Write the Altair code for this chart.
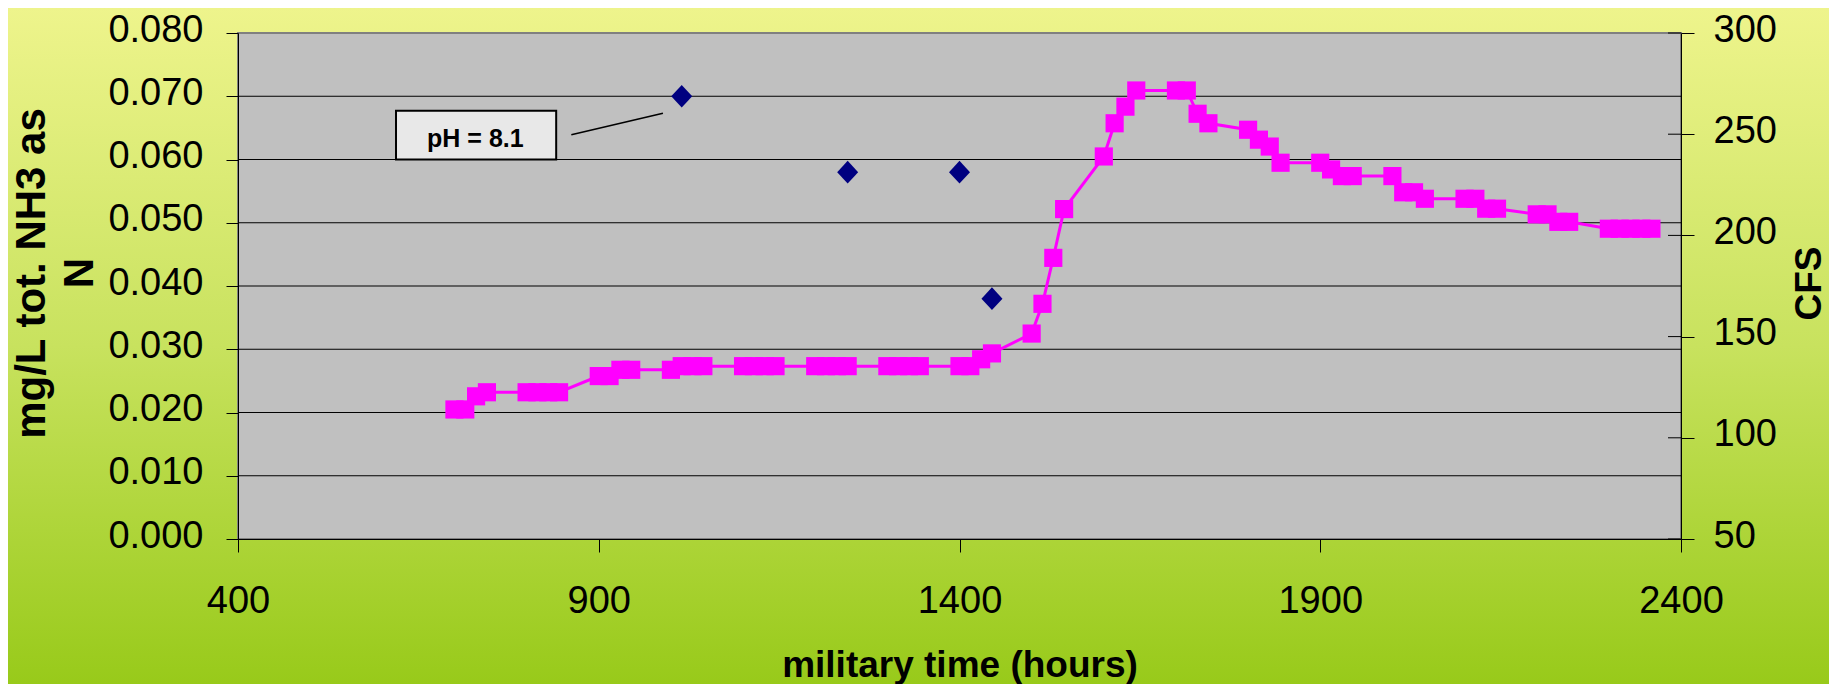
import altair as alt
import pandas as pd

# ---------------- data ----------------
cfs_time = [700, 715, 730, 745, 800, 815, 830, 845, 900, 915, 930, 945,
            1000, 1015, 1030, 1045, 1100, 1115, 1130, 1145, 1200, 1215, 1230, 1245,
            1300, 1315, 1330, 1345, 1400, 1415, 1430, 1445, 1500, 1515, 1530, 1545,
            1600, 1615, 1630, 1645, 1700, 1715, 1730, 1745, 1800, 1815, 1830, 1845,
            1900, 1915, 1930, 1945, 2000, 2015, 2030, 2045, 2100, 2115, 2130, 2145,
            2200, 2215, 2230, 2245, 2300, 2315, 2330, 2345, 2359]
cfs = [114, 114, 120.5, 122.5,
       122.5, 122.5, 122.5, 122.5,
       130.5, 130.5, 133.6, 133.6,
       133.6, 135.4, 135.4, 135.4,
       135.4, 135.4, 135.4, 135.4,
       135.4, 135.4, 135.4, 135.4,
       135.4, 135.4, 135.4, 135.4,
       135.4, 135.4, 138.8, 141.7,
       151.5, 166.2, 188.9, 213.0,
       239.0, 255.4, 263.6, 271.6,
       271.6, 271.6, 260.1, 255.4,
       252.2, 247.3, 243.9, 235.9,
       235.9, 232.6, 229.3, 229.3,
       229.3, 221.3, 221.3, 218.1,
       218.1, 218.1, 213.2, 213.2,
       210.4, 210.4, 206.7, 206.7,
       203.3, 203.3, 203.3, 203.3, 203.3]

nh3_time = [1015, 1245, 1400, 1445]
nh3 = [0.070, 0.058, 0.058, 0.038]

x_ticks = [400, 900, 1400, 1900, 2400]
left_ticks = [0.0, 0.01, 0.02, 0.03, 0.04, 0.05, 0.06, 0.07, 0.08]
grid_vals = [0.01, 0.02, 0.03, 0.04, 0.05, 0.06, 0.07]
right_ticks = [50, 100, 150, 200, 250, 300]

left_title_lines = ["mg/L tot. NH3 as", "N"]

# annotation "pH = 8.1"
note_text = "pH = 8.1"
note_box_x = [619, 841]
note_box_y = [0.0600, 0.0677]
note_text_pos = [729, 0.0632]
note_line_x = [862, 989]
note_line_y = [0.0639, 0.0673]

# ---------------- layout ----------------
W, H = 1443, 506
PAD = {"left": 230, "top": 25, "right": 148, "bottom": 145}
FONT = "Liberation Sans"
TITLE_Y = 240

x_scale = alt.Scale(domain=[400, 2400], nice=False, zero=False)
yl_scale = alt.Scale(domain=[0, 0.08], nice=False)
yr_scale = alt.Scale(domain=[50, 300], nice=False, zero=False)

x_axis = alt.Axis(values=x_ticks, format="d", title="military time (hours)",
                  grid=False, tickSize=13, labelPadding=30, labelFontSize=38,
                  labelFlush=False, labelOverlap=False, labelBound=False,
                  titleFontSize=37, titleFontWeight="bold", titleY=126,
                  titleBaseline="middle", zindex=1)
yl_axis = alt.Axis(values=left_ticks, format=".3f", title=left_title_lines[0],
                   grid=False, tickSize=12, labelPadding=23, labelFontSize=38,
                   labelOffset=-3, labelFlush=False, labelOverlap=False,
                   titleFontSize=42, titleFontWeight="bold", titleAngle=270,
                   titleX=-207, titleY=TITLE_Y, titleBaseline="middle",
                   titleAlign="center", zindex=1)
yr_axis = alt.Axis(orient="right", values=right_ticks, format="d", title="CFS",
                   grid=False, tickSize=13, labelPadding=19, labelFontSize=38,
                   labelOffset=-3, labelFlush=False, labelOverlap=False,
                   titleFontSize=37, titleFontWeight="bold", titleAngle=270,
                   titleX=128, titleY=H / 2 - 3, titleBaseline="middle",
                   titleAlign="center", zindex=1)

def X(f):
    return alt.X(f, type="quantitative", scale=x_scale, axis=x_axis)

def YL(f):
    return alt.Y(f, type="quantitative", scale=yl_scale, axis=yl_axis)

def YR(f):
    return alt.Y(f, type="quantitative", scale=yr_scale, axis=yr_axis)

one = alt.Data(values=[{}])

gradient = alt.LinearGradient(
    gradient="linear",
    stops=[alt.GradientStop(color="#EEF48C", offset=0),
           alt.GradientStop(color="#C8E25E", offset=0.5),
           alt.GradientStop(color="#98CA1A", offset=1)],
    x1=0, x2=0, y1=0, y2=1)

bg = alt.Chart(one).mark_rect(fill=gradient, strokeWidth=0).encode(
    x=alt.value(-PAD["left"]), x2=alt.value(W + PAD["right"]),
    y=alt.value(-PAD["top"]), y2=alt.value(H + PAD["bottom"]))

plot_bg = alt.Chart(one).mark_rect(fill="#C0C0C0", stroke="#808080", strokeWidth=2).encode(
    x=alt.value(0), x2=alt.value(W), y=alt.value(0), y2=alt.value(H))

# second line of the left axis title
title_n = alt.Chart(one).mark_text(
    text=left_title_lines[1], font=FONT, fontSize=42, fontWeight="bold", color="black",
    angle=270, align="center", baseline="middle").encode(
    x=alt.value(-158), y=alt.value(TITLE_Y))

grid = alt.Chart(pd.DataFrame({"g": grid_vals})).mark_rule(color="black", strokeWidth=1).encode(
    x=alt.value(0), x2=alt.value(W), y=YL("g"))

box = alt.Chart(pd.DataFrame({"x1": [note_box_x[0]], "x2": [note_box_x[1]],
                              "y1": [note_box_y[0]], "y2": [note_box_y[1]]})).mark_rect(
    fill="#E8E8E8", stroke="black", strokeWidth=2).encode(
    x=X("x1"), x2="x2", y=YL("y1"), y2="y2")

text = alt.Chart(pd.DataFrame({"x": [note_text_pos[0]], "y": [note_text_pos[1]]})).mark_text(
    text=note_text, font=FONT, fontSize=25, fontWeight="bold", color="black",
    align="center", baseline="middle").encode(x=X("x"), y=YL("y"))

leader = alt.Chart(pd.DataFrame({"x1": [note_line_x[0]], "x2": [note_line_x[1]],
                                 "y1": [note_line_y[0]], "y2": [note_line_y[1]]})).mark_rule(
    color="black", strokeWidth=1.6).encode(x=X("x1"), x2="x2", y=YL("y1"), y2="y2")

scatter = alt.Chart(pd.DataFrame({"t": nh3_time, "v": nh3})).mark_point(
    shape="M0,-1.08L1,0L0,1.08L-1,0Z", size=441, filled=True, color="#000080",
    opacity=1).encode(x=X("t"), y=YL("v"))

pink = alt.Chart(pd.DataFrame({"t": cfs_time, "cfs": cfs})).mark_line(
    color="#FF00FF", strokeWidth=3,
    point=alt.OverlayMarkDef(shape="square", size=330, color="#FF00FF",
                             filled=True, opacity=1)).encode(x=X("t"), y=YR("cfs"))

rtick = alt.Chart(pd.DataFrame({"v": right_ticks})).mark_rule(color="black", strokeWidth=1).encode(
    x=alt.value(W - 13), x2=alt.value(W), y=YR("v"))

left_group = alt.layer(grid, box, text, leader, scatter)
right_group = alt.layer(pink, rtick)

chart = alt.layer(bg, plot_bg, title_n, left_group, right_group).resolve_scale(
    y="independent").properties(
    width=W, height=H, padding=PAD,
    autosize=alt.AutoSizeParams(type="none")).configure_view(
    strokeWidth=0).configure_axis(
    labelFont=FONT, titleFont=FONT, labelColor="black", titleColor="black",
    domainColor="black", tickColor="black", domainWidth=1, tickWidth=1)

chart.save("out.html", embed_options={"renderer": "svg", "actions": False})
